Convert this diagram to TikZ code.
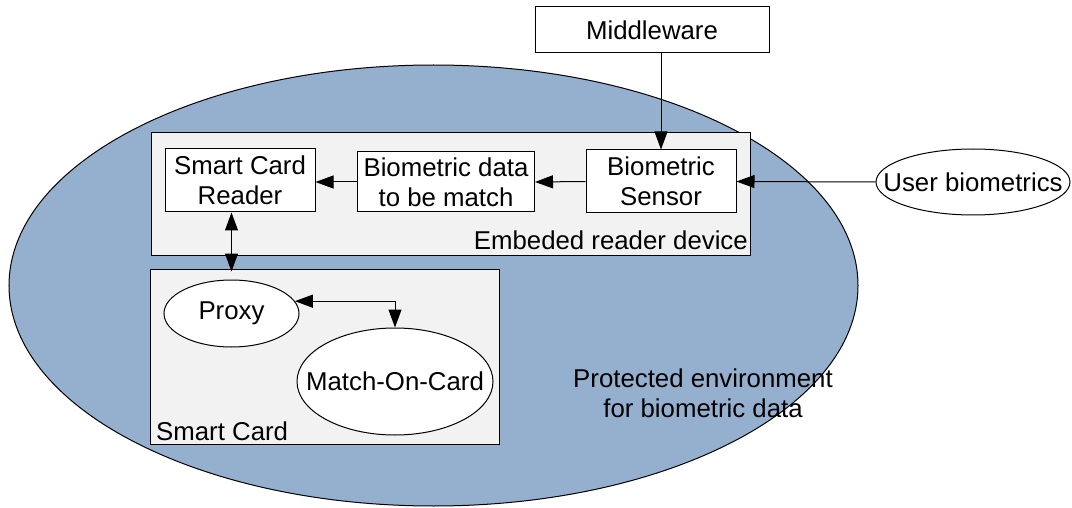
\documentclass[tikz,border=0pt]{standalone}
\usepackage{fontspec}
\setmainfont{Liberation Sans}
\usetikzlibrary{arrows.meta,shapes.geometric}
\definecolor{envblue}{RGB}{149,176,207}
\definecolor{boxgray}{RGB}{242,242,242}
\newcommand{\zw}[1]{\makebox[0pt]{#1}}
\begin{document}
\begin{tikzpicture}[x=1pt,y=-1pt,
  font=\fontsize{25.8}{30}\selectfont,
  box/.style={draw, line width=1pt, fill=white, inner sep=0pt, align=center},
  group/.style={draw, line width=1pt, fill=boxgray, inner sep=0pt},
  oval/.style={ellipse, draw, line width=1pt, fill=white, inner sep=0pt},
  lbl/.style={inner sep=0pt},
  arr/.style={line width=1pt, -{Triangle[length=18pt,width=13pt]}},
  darr/.style={line width=1pt, {Triangle[length=18pt,width=13pt]}-{Triangle[length=18pt,width=13pt]}}]
\useasboundingbox (0,0) rectangle (1072,508);
% protected environment
\node[ellipse, draw, fill=envblue, line width=1pt, inner sep=0pt,
      minimum width=849pt, minimum height=441pt] (env) at (433.5,285.5) {};
\node[lbl, align=center] (envtext) at (703,393) {Protected environment\\for biometric data};
% groups
\node[group, minimum width=599pt, minimum height=122pt] (erd) at (450.5,194) {};
\node[lbl, anchor=base east] (erdlbl) at (748,250) {Embeded reader device};
\node[group, minimum width=349pt, minimum height=175pt] (sc) at (324.5,356.5) {};
\node[lbl, anchor=base west] (sclbl) at (156,440) {Smart Card};
% boxes
\node[box, minimum width=234pt, minimum height=46pt] (mw) at (652,30) {Middleware};
\node[box, minimum width=150pt, minimum height=63pt] (scr) at (240,180.5) {Smart Card\\Reader};
\node[box, minimum width=177pt, minimum height=60pt] (bdm) at (446,182) {Biometric data\\to be match};
\node[box, minimum width=150pt, minimum height=63pt] (sensor) at (661,181.5) {Biometric\\Sensor};
% ellipses
\node[oval, minimum width=194pt, minimum height=66pt] (user) at (973,182) {\zw{User biometrics}};
\node[oval, minimum width=135pt, minimum height=67pt] (proxy) at (231.5,313.5) {\zw{Proxy}};
\node[oval, minimum width=196pt, minimum height=107pt] (moc) at (395,381.5) {\zw{Match-On-Card}};
% connectors
\draw[arr] (sensor.north |- mw.south) -- (sensor.north);
\draw[arr] (user.west) -- (sensor.east);
\draw[arr] (sensor.west) -- (bdm.east);
\draw[arr] (bdm.west) -- (bdm.west -| scr.east);
\draw[darr] (proxy.north |- scr.south) -- ([yshift=8pt]proxy.north);
\draw[darr] (proxy.11) -| (moc.north);
\end{tikzpicture}
\end{document}
